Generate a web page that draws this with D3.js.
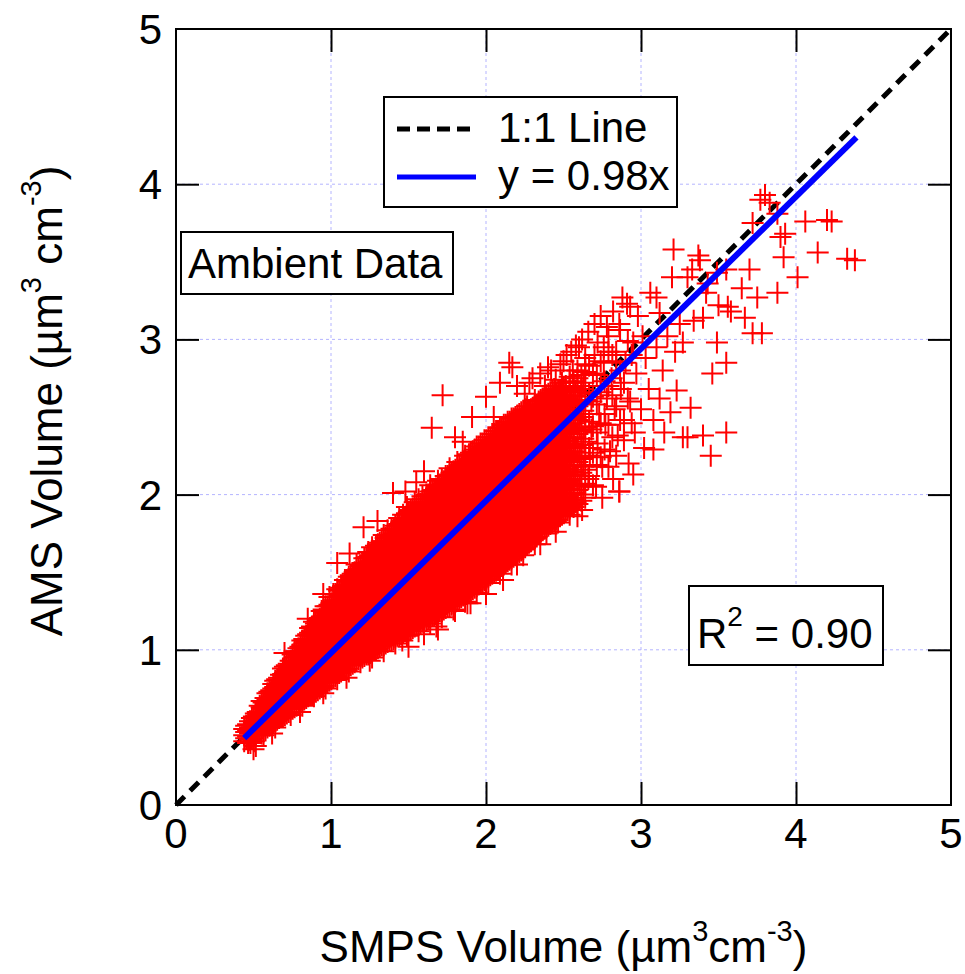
<!DOCTYPE html>
<html><head><meta charset="utf-8">
<script src="https://cdn.jsdelivr.net/npm/d3@7"></script>
<style>body{margin:0;background:#fff}</style>
</head><body>
<svg id="chart" width="965" height="974"></svg>
<script>
// ---------------- DATA ----------------
const xTickValues = [0,1,2,3,4,5];
const yTickValues = [0,1,2,3,4,5];
const gridValues = [1,2,3,4];
const oneToOneRange = [0,5];
const fitSlope = 0.98;
const fitRange = [0.44, 4.39];
const legendLabels = ["1:1 Line", "y = 0.98x"];
const boxLabel = "Ambient Data";
const r2Value = "0.90";

// dense core of the cloud, read column by column: [SMPS, [AMS values]]
const coreColumns = [
[0.440,[0.41,0.45,0.49]],
[0.465,[0.40,0.44,0.48,0.52]],
[0.490,[0.43,0.47,0.51,0.56]],
[0.515,[0.38,0.45,0.49,0.54,0.59]],
[0.540,[0.47,0.51,0.56,0.60,0.64]],
[0.565,[0.45,0.49,0.53,0.58,0.62,0.66]],
[0.590,[0.50,0.54,0.59,0.63,0.68,0.72]],
[0.615,[0.52,0.56,0.61,0.65,0.70,0.74]],
[0.640,[0.50,0.54,0.58,0.63,0.67,0.72,0.76,0.80]],
[0.665,[0.56,0.60,0.65,0.69,0.74,0.78,0.82]],
[0.690,[0.57,0.62,0.66,0.71,0.75,0.80,0.84,0.88]],
[0.715,[0.59,0.63,0.68,0.72,0.77,0.81,0.86,0.90]],
[0.740,[0.58,0.62,0.66,0.70,0.75,0.79,0.84,0.88,0.93]],
[0.765,[0.63,0.68,0.72,0.77,0.81,0.86,0.90,0.95,0.99]],
[0.790,[0.65,0.69,0.74,0.78,0.83,0.87,0.92,0.96,1.01]],
[0.815,[0.64,0.67,0.71,0.76,0.80,0.85,0.89,0.94,0.98,1.03,1.06]],
[0.840,[0.69,0.73,0.78,0.82,0.87,0.91,0.96,1.00,1.05,1.09]],
[0.865,[0.71,0.75,0.80,0.84,0.89,0.93,0.98,1.02,1.07,1.11,1.14]],
[0.890,[0.70,0.74,0.78,0.83,0.87,0.92,0.96,1.01,1.05,1.10,1.14,1.18]],
[0.915,[0.74,0.79,0.83,0.88,0.92,0.97,1.01,1.06,1.10,1.15,1.19]],
[0.940,[0.76,0.80,0.85,0.89,0.94,0.98,1.03,1.07,1.12,1.16,1.21,1.25]],
[0.965,[0.75,0.79,0.83,0.88,0.92,0.97,1.01,1.06,1.10,1.15,1.19,1.24,1.28]],
[0.990,[0.80,0.84,0.89,0.93,0.98,1.02,1.07,1.11,1.16,1.20,1.25,1.29,1.34]],
[1.015,[0.82,0.86,0.91,0.95,1.00,1.04,1.09,1.13,1.18,1.22,1.27,1.31,1.36]],
[1.040,[0.81,0.85,0.89,0.94,0.98,1.03,1.07,1.12,1.16,1.21,1.25,1.30,1.34,1.39]],
[1.065,[0.86,0.90,0.95,0.99,1.04,1.08,1.13,1.17,1.22,1.26,1.31,1.35,1.40]],
[1.090,[0.87,0.92,0.96,1.01,1.05,1.10,1.14,1.19,1.23,1.28,1.32,1.37,1.41,1.45]],
[1.115,[0.86,0.90,0.94,0.99,1.03,1.08,1.12,1.17,1.21,1.26,1.30,1.35,1.39,1.44,1.47]],
[1.140,[0.91,0.95,1.00,1.04,1.09,1.13,1.18,1.22,1.27,1.31,1.36,1.40,1.45,1.49]],
[1.165,[0.93,0.97,1.02,1.06,1.11,1.15,1.20,1.24,1.29,1.33,1.38,1.42,1.47,1.51,1.55]],
[1.190,[0.92,0.96,1.00,1.05,1.09,1.14,1.18,1.23,1.27,1.32,1.36,1.41,1.45,1.50,1.54]],
[1.215,[0.96,1.01,1.05,1.10,1.14,1.19,1.23,1.28,1.32,1.37,1.41,1.46,1.50,1.55,1.59]],
[1.240,[0.97,1.02,1.06,1.11,1.15,1.20,1.24,1.29,1.33,1.38,1.42,1.47,1.51,1.56,1.60,1.63]],
[1.265,[0.95,0.99,1.03,1.08,1.12,1.17,1.21,1.26,1.30,1.35,1.39,1.44,1.48,1.53,1.57,1.62,1.66]],
[1.290,[1.00,1.05,1.09,1.14,1.18,1.23,1.27,1.32,1.36,1.41,1.45,1.50,1.54,1.59,1.63,1.67]],
[1.315,[1.02,1.06,1.11,1.15,1.20,1.24,1.29,1.33,1.38,1.42,1.47,1.51,1.56,1.60,1.65,1.69]],
[1.340,[0.99,1.03,1.07,1.12,1.16,1.21,1.25,1.30,1.34,1.39,1.43,1.48,1.52,1.57,1.61,1.66,1.70,1.74]],
[1.365,[1.05,1.09,1.14,1.18,1.23,1.27,1.32,1.36,1.41,1.45,1.50,1.54,1.59,1.63,1.68,1.72,1.77]],
[1.390,[1.06,1.10,1.15,1.19,1.24,1.28,1.33,1.37,1.42,1.46,1.51,1.55,1.60,1.64,1.69,1.73,1.78]],
[1.415,[1.04,1.08,1.12,1.17,1.21,1.26,1.30,1.35,1.39,1.44,1.48,1.53,1.57,1.62,1.66,1.71,1.75,1.80]],
[1.440,[1.09,1.13,1.18,1.22,1.27,1.31,1.36,1.40,1.45,1.49,1.54,1.58,1.63,1.67,1.72,1.76,1.81,1.85]],
[1.465,[1.11,1.15,1.20,1.24,1.29,1.33,1.38,1.42,1.47,1.51,1.56,1.60,1.65,1.69,1.74,1.78,1.83,1.87]],
[1.490,[1.09,1.12,1.16,1.21,1.25,1.30,1.34,1.39,1.43,1.48,1.52,1.57,1.61,1.66,1.70,1.75,1.79,1.84,1.88,1.92]],
[1.515,[1.13,1.18,1.22,1.27,1.31,1.36,1.40,1.45,1.49,1.54,1.58,1.63,1.67,1.72,1.76,1.81,1.85,1.90]],
[1.540,[1.15,1.19,1.24,1.28,1.33,1.37,1.42,1.46,1.51,1.55,1.60,1.64,1.69,1.73,1.78,1.82,1.87,1.91,1.95]],
[1.565,[1.12,1.16,1.20,1.25,1.29,1.34,1.38,1.43,1.47,1.52,1.56,1.61,1.65,1.70,1.74,1.79,1.83,1.88,1.92,1.97]],
[1.590,[1.18,1.22,1.27,1.31,1.36,1.40,1.45,1.49,1.54,1.58,1.63,1.67,1.72,1.76,1.81,1.85,1.90,1.94,1.99]],
[1.615,[1.19,1.23,1.28,1.32,1.37,1.41,1.46,1.50,1.55,1.59,1.64,1.68,1.73,1.77,1.82,1.86,1.91,1.95,2.00]],
[1.640,[1.17,1.21,1.25,1.30,1.34,1.39,1.43,1.48,1.52,1.57,1.61,1.66,1.70,1.75,1.79,1.84,1.88,1.93,1.97,2.02,2.06]],
[1.665,[1.22,1.27,1.31,1.36,1.40,1.45,1.49,1.54,1.58,1.63,1.67,1.72,1.76,1.81,1.85,1.90,1.94,1.99,2.03]],
[1.690,[1.24,1.28,1.33,1.37,1.42,1.46,1.51,1.55,1.60,1.64,1.69,1.73,1.78,1.82,1.87,1.91,1.96,2.00,2.05,2.09]],
[1.715,[1.21,1.25,1.29,1.34,1.38,1.43,1.47,1.52,1.56,1.61,1.65,1.70,1.74,1.79,1.83,1.88,1.92,1.97,2.01,2.06,2.10]],
[1.740,[1.27,1.31,1.36,1.40,1.45,1.49,1.54,1.58,1.63,1.67,1.72,1.76,1.81,1.85,1.90,1.94,1.99,2.03,2.08,2.12]],
[1.765,[1.28,1.32,1.37,1.41,1.46,1.50,1.55,1.59,1.64,1.68,1.73,1.77,1.82,1.86,1.91,1.95,2.00,2.04,2.09,2.13,2.17]],
[1.790,[1.26,1.30,1.34,1.39,1.43,1.48,1.52,1.57,1.61,1.66,1.70,1.75,1.79,1.84,1.88,1.93,1.97,2.02,2.06,2.11,2.15]],
[1.815,[1.32,1.36,1.41,1.45,1.50,1.54,1.59,1.63,1.68,1.72,1.77,1.81,1.86,1.90,1.95,1.99,2.04,2.08,2.13,2.17,2.21]],
[1.840,[1.34,1.38,1.43,1.47,1.52,1.56,1.61,1.65,1.70,1.74,1.79,1.83,1.88,1.92,1.97,2.01,2.06,2.10,2.15,2.19]],
[1.865,[1.31,1.36,1.40,1.45,1.49,1.54,1.58,1.63,1.67,1.72,1.76,1.81,1.85,1.90,1.94,1.99,2.03,2.08,2.12,2.17,2.21,2.25]],
[1.890,[1.37,1.41,1.46,1.50,1.55,1.59,1.64,1.68,1.73,1.77,1.82,1.86,1.91,1.95,2.00,2.04,2.09,2.13,2.18,2.22,2.26]],
[1.915,[1.39,1.43,1.48,1.52,1.57,1.61,1.66,1.70,1.75,1.79,1.84,1.88,1.93,1.97,2.02,2.06,2.11,2.15,2.20,2.24,2.28]],
[1.940,[1.37,1.41,1.45,1.50,1.54,1.59,1.63,1.68,1.72,1.77,1.81,1.86,1.90,1.95,1.99,2.04,2.08,2.13,2.17,2.22,2.26,2.31]],
[1.965,[1.43,1.47,1.52,1.56,1.61,1.65,1.70,1.74,1.79,1.83,1.88,1.92,1.97,2.01,2.06,2.10,2.15,2.19,2.24,2.28,2.33]],
[1.990,[1.45,1.49,1.54,1.58,1.63,1.67,1.72,1.76,1.81,1.85,1.90,1.94,1.99,2.03,2.08,2.12,2.17,2.21,2.26,2.30,2.35]],
[2.015,[1.43,1.47,1.51,1.56,1.60,1.65,1.69,1.74,1.78,1.83,1.87,1.92,1.96,2.01,2.05,2.10,2.14,2.19,2.23,2.28,2.32,2.37]],
[2.040,[1.49,1.53,1.58,1.62,1.67,1.71,1.76,1.80,1.85,1.89,1.94,1.98,2.03,2.07,2.12,2.16,2.21,2.25,2.30,2.34,2.39]],
[2.065,[1.51,1.55,1.60,1.64,1.69,1.73,1.78,1.82,1.87,1.91,1.96,2.00,2.05,2.09,2.14,2.18,2.23,2.27,2.32,2.36,2.41]],
[2.090,[1.49,1.53,1.57,1.62,1.66,1.71,1.75,1.80,1.84,1.89,1.93,1.98,2.02,2.07,2.11,2.16,2.20,2.25,2.29,2.34,2.38,2.43]],
[2.115,[1.55,1.59,1.64,1.68,1.73,1.77,1.82,1.86,1.91,1.95,2.00,2.04,2.09,2.13,2.18,2.22,2.27,2.31,2.36,2.40,2.45]],
[2.140,[1.57,1.61,1.66,1.70,1.75,1.79,1.84,1.88,1.93,1.97,2.02,2.06,2.11,2.15,2.20,2.24,2.29,2.33,2.38,2.42,2.47]],
[2.165,[1.55,1.59,1.63,1.68,1.72,1.77,1.81,1.86,1.90,1.95,1.99,2.04,2.08,2.13,2.17,2.22,2.26,2.31,2.35,2.40,2.44,2.49]],
[2.190,[1.61,1.65,1.70,1.74,1.79,1.83,1.88,1.92,1.97,2.01,2.06,2.10,2.15,2.19,2.24,2.28,2.33,2.37,2.42,2.46,2.50]],
[2.215,[1.63,1.67,1.72,1.76,1.81,1.85,1.90,1.94,1.99,2.03,2.08,2.12,2.17,2.21,2.26,2.30,2.35,2.39,2.44,2.48,2.52]],
[2.240,[1.61,1.65,1.69,1.74,1.78,1.83,1.87,1.92,1.96,2.01,2.05,2.10,2.14,2.19,2.23,2.28,2.32,2.37,2.41,2.46,2.50,2.54]],
[2.265,[1.68,1.72,1.77,1.81,1.86,1.90,1.95,1.99,2.04,2.08,2.13,2.17,2.22,2.26,2.31,2.35,2.40,2.44,2.49,2.53,2.57]],
[2.290,[1.70,1.74,1.79,1.83,1.88,1.92,1.97,2.01,2.06,2.10,2.15,2.19,2.24,2.28,2.33,2.37,2.42,2.46,2.51,2.55]],
[2.315,[1.68,1.72,1.76,1.81,1.85,1.90,1.94,1.99,2.03,2.08,2.12,2.17,2.21,2.26,2.30,2.35,2.39,2.44,2.48,2.53,2.57,2.61]],
[2.340,[1.75,1.79,1.84,1.88,1.93,1.97,2.02,2.06,2.11,2.15,2.20,2.24,2.29,2.33,2.38,2.42,2.47,2.51,2.56,2.60]],
[2.365,[1.77,1.81,1.86,1.90,1.95,1.99,2.04,2.08,2.13,2.17,2.22,2.26,2.31,2.35,2.40,2.44,2.49,2.53,2.58,2.62]],
[2.390,[1.75,1.79,1.83,1.88,1.92,1.97,2.01,2.06,2.10,2.15,2.19,2.24,2.28,2.33,2.37,2.42,2.46,2.51,2.55,2.60,2.64]],
[2.415,[1.81,1.86,1.90,1.95,1.99,2.04,2.08,2.13,2.17,2.22,2.26,2.31,2.35,2.40,2.44,2.49,2.53,2.58,2.62,2.66]],
[2.440,[1.83,1.88,1.92,1.97,2.01,2.06,2.10,2.15,2.19,2.24,2.28,2.33,2.37,2.42,2.46,2.51,2.55,2.60,2.64,2.68]],
[2.465,[1.82,1.86,1.91,1.95,2.00,2.04,2.09,2.13,2.18,2.22,2.27,2.31,2.36,2.40,2.45,2.49,2.54,2.58,2.63,2.67]],
[2.490,[1.87,1.92,1.96,2.01,2.05,2.10,2.14,2.19,2.23,2.28,2.32,2.37,2.41,2.46,2.50,2.55,2.59,2.64,2.68,2.72]],
[2.515,[1.89,1.94,1.98,2.03,2.07,2.12,2.16,2.21,2.25,2.30,2.34,2.39,2.43,2.48,2.52,2.57,2.61,2.66,2.70]],
[2.540,[1.87,1.91,1.95,2.00,2.04,2.09,2.13,2.18,2.22,2.27,2.31,2.36,2.40,2.45,2.49,2.54,2.58,2.63,2.67,2.72,2.76]],
[2.565,[1.92,1.97,2.01,2.06,2.10,2.15,2.19,2.24,2.28,2.33,2.37,2.42,2.46,2.51,2.55,2.60,2.64,2.69,2.73]],
[2.590,[1.94,2.03,2.12,2.21,2.30,2.39,2.48,2.57,2.66,2.75,2.80]],
[2.615,[1.96,2.05,2.14,2.23,2.32,2.41,2.50,2.59,2.68,2.77]],
[2.640,[1.98,2.07,2.16,2.25,2.34,2.43,2.52,2.61,2.70,2.79,2.84]]
];

// second pass over the core, read between the columns above
const coreColumnsB = [
[0.4525,[0.43,0.47,0.51]],
[0.4775,[0.42,0.46,0.50,0.54]],
[0.5025,[0.41,0.45,0.49,0.53,0.57]],
[0.5275,[0.47,0.51,0.56,0.60]],
[0.5525,[0.46,0.50,0.54,0.59,0.63,0.67]],
[0.5775,[0.48,0.52,0.56,0.61,0.65,0.69]],
[0.6025,[0.51,0.55,0.59,0.64,0.68,0.73]],
[0.6275,[0.53,0.57,0.62,0.66,0.71,0.75,0.78]],
[0.6525,[0.55,0.59,0.63,0.68,0.72,0.77,0.81]],
[0.6775,[0.57,0.61,0.66,0.70,0.75,0.79,0.84]],
[0.7025,[0.58,0.62,0.67,0.71,0.76,0.80,0.85,0.89]],
[0.7275,[0.60,0.64,0.69,0.73,0.78,0.82,0.87,0.91]],
[0.7525,[0.62,0.66,0.71,0.75,0.80,0.84,0.89,0.93,0.97]],
[0.7775,[0.64,0.68,0.73,0.77,0.82,0.86,0.91,0.95,0.99]],
[0.8025,[0.66,0.70,0.75,0.79,0.84,0.88,0.93,0.97,1.02]],
[0.8275,[0.68,0.72,0.77,0.81,0.86,0.90,0.95,0.99,1.04,1.07]],
[0.8525,[0.70,0.74,0.79,0.83,0.88,0.92,0.97,1.01,1.06,1.10]],
[0.8775,[0.71,0.76,0.80,0.85,0.89,0.94,0.98,1.03,1.07,1.12,1.15]],
[0.9025,[0.73,0.77,0.82,0.86,0.91,0.95,1.00,1.04,1.09,1.13,1.17]],
[0.9275,[0.75,0.79,0.84,0.88,0.93,0.97,1.02,1.06,1.11,1.15,1.20]],
[0.9525,[0.77,0.81,0.86,0.90,0.95,0.99,1.04,1.08,1.13,1.17,1.22,1.26]],
[0.9775,[0.79,0.83,0.87,0.92,0.96,1.01,1.05,1.10,1.14,1.19,1.23,1.28]],
[1.0025,[0.81,0.85,0.90,0.94,0.99,1.03,1.08,1.12,1.17,1.21,1.26,1.30]],
[1.0275,[0.83,0.87,0.92,0.96,1.01,1.05,1.10,1.14,1.19,1.23,1.28,1.32,1.36]],
[1.0525,[0.85,0.89,0.93,0.98,1.02,1.07,1.11,1.16,1.20,1.25,1.29,1.34,1.38]],
[1.0775,[0.87,0.91,0.95,1.00,1.04,1.09,1.13,1.18,1.22,1.27,1.31,1.36,1.41]],
[1.1025,[0.88,0.93,0.97,1.02,1.06,1.11,1.15,1.20,1.24,1.29,1.33,1.38,1.42,1.45]],
[1.1275,[0.90,0.94,0.99,1.03,1.08,1.12,1.17,1.21,1.26,1.30,1.35,1.39,1.44,1.48]],
[1.1525,[0.92,0.96,1.01,1.05,1.10,1.14,1.19,1.23,1.28,1.32,1.37,1.41,1.46,1.50]],
[1.1775,[0.94,0.98,1.02,1.07,1.11,1.16,1.20,1.25,1.29,1.34,1.38,1.43,1.47,1.52]],
[1.2025,[0.95,0.99,1.04,1.08,1.13,1.17,1.22,1.26,1.31,1.35,1.40,1.44,1.49,1.53,1.56]],
[1.2275,[0.97,1.01,1.06,1.10,1.15,1.19,1.24,1.28,1.33,1.37,1.42,1.46,1.51,1.55,1.59]],
[1.2525,[0.98,1.03,1.07,1.12,1.16,1.21,1.25,1.30,1.34,1.39,1.43,1.48,1.52,1.57,1.61]],
[1.2775,[1.00,1.04,1.09,1.13,1.18,1.22,1.27,1.31,1.36,1.40,1.45,1.49,1.54,1.58,1.63]],
[1.3025,[1.01,1.06,1.10,1.15,1.19,1.24,1.28,1.33,1.37,1.42,1.46,1.51,1.55,1.60,1.64,1.68]],
[1.3275,[1.03,1.07,1.12,1.16,1.21,1.25,1.30,1.34,1.39,1.43,1.48,1.52,1.57,1.61,1.66,1.70]],
[1.3525,[1.04,1.09,1.13,1.18,1.22,1.27,1.31,1.36,1.40,1.45,1.49,1.54,1.58,1.63,1.67,1.72]],
[1.3775,[1.06,1.10,1.15,1.19,1.24,1.28,1.33,1.37,1.42,1.46,1.51,1.55,1.60,1.64,1.69,1.73]],
[1.4025,[1.07,1.12,1.16,1.21,1.25,1.30,1.34,1.39,1.43,1.48,1.52,1.57,1.61,1.66,1.70,1.75,1.78]],
[1.4275,[1.09,1.13,1.18,1.22,1.27,1.31,1.36,1.40,1.45,1.49,1.54,1.58,1.63,1.67,1.72,1.76,1.80]],
[1.4525,[1.10,1.15,1.19,1.24,1.28,1.33,1.37,1.42,1.46,1.51,1.55,1.60,1.64,1.69,1.73,1.78,1.82]],
[1.4775,[1.12,1.16,1.21,1.25,1.30,1.34,1.39,1.43,1.48,1.52,1.57,1.61,1.66,1.70,1.75,1.79,1.84]],
[1.5025,[1.13,1.17,1.22,1.26,1.31,1.35,1.40,1.44,1.49,1.53,1.58,1.62,1.67,1.71,1.76,1.80,1.85,1.89]],
[1.5275,[1.14,1.19,1.23,1.28,1.32,1.37,1.41,1.46,1.50,1.55,1.59,1.64,1.68,1.73,1.77,1.82,1.86,1.91]],
[1.5525,[1.16,1.20,1.25,1.29,1.34,1.38,1.43,1.47,1.52,1.56,1.61,1.65,1.70,1.74,1.79,1.83,1.88,1.93]],
[1.5775,[1.17,1.22,1.26,1.31,1.35,1.40,1.44,1.49,1.53,1.58,1.62,1.67,1.71,1.76,1.80,1.85,1.89,1.94]],
[1.6025,[1.19,1.23,1.28,1.32,1.37,1.41,1.46,1.50,1.55,1.59,1.64,1.68,1.73,1.77,1.82,1.86,1.91,1.95]],
[1.6275,[1.20,1.25,1.29,1.34,1.38,1.43,1.47,1.52,1.56,1.61,1.65,1.70,1.74,1.79,1.83,1.88,1.92,1.97,2.00]],
[1.6525,[1.22,1.26,1.31,1.35,1.40,1.44,1.49,1.53,1.58,1.62,1.67,1.71,1.76,1.80,1.85,1.89,1.94,1.98,2.02]],
[1.6775,[1.23,1.28,1.32,1.37,1.41,1.46,1.50,1.55,1.59,1.64,1.68,1.73,1.77,1.82,1.86,1.91,1.95,2.00,2.04]],
[1.7025,[1.25,1.29,1.34,1.38,1.43,1.47,1.52,1.56,1.61,1.65,1.70,1.74,1.79,1.83,1.88,1.92,1.97,2.01,2.06]],
[1.7275,[1.26,1.31,1.35,1.40,1.44,1.49,1.53,1.58,1.62,1.67,1.71,1.76,1.80,1.85,1.89,1.94,1.98,2.03,2.07]],
[1.7525,[1.28,1.32,1.37,1.41,1.46,1.50,1.55,1.59,1.64,1.68,1.73,1.77,1.82,1.86,1.91,1.95,2.00,2.04,2.09,2.12]],
[1.7775,[1.29,1.34,1.38,1.43,1.47,1.52,1.56,1.61,1.65,1.70,1.74,1.79,1.83,1.88,1.92,1.97,2.01,2.06,2.10,2.14]],
[1.8025,[1.31,1.35,1.40,1.44,1.49,1.53,1.58,1.62,1.67,1.71,1.76,1.80,1.85,1.89,1.94,1.98,2.03,2.07,2.12,2.16]],
[1.8275,[1.33,1.37,1.42,1.46,1.51,1.55,1.60,1.64,1.69,1.73,1.78,1.82,1.87,1.91,1.96,2.00,2.05,2.09,2.14,2.18]],
[1.8525,[1.35,1.39,1.44,1.48,1.53,1.57,1.62,1.66,1.71,1.75,1.80,1.84,1.89,1.93,1.98,2.02,2.07,2.11,2.16,2.20]],
[1.8775,[1.36,1.40,1.45,1.49,1.54,1.58,1.63,1.67,1.72,1.76,1.81,1.85,1.90,1.94,1.99,2.03,2.08,2.12,2.17,2.21]],
[1.9025,[1.38,1.42,1.47,1.51,1.56,1.60,1.65,1.69,1.74,1.78,1.83,1.87,1.92,1.96,2.01,2.05,2.10,2.14,2.19,2.23,2.27]],
[1.9275,[1.40,1.44,1.49,1.53,1.58,1.62,1.67,1.71,1.76,1.80,1.85,1.89,1.94,1.98,2.03,2.07,2.12,2.16,2.21,2.25,2.29]],
[1.9525,[1.42,1.46,1.51,1.55,1.60,1.64,1.69,1.73,1.78,1.82,1.87,1.91,1.96,2.00,2.05,2.09,2.14,2.18,2.23,2.27,2.31]],
[1.9775,[1.44,1.48,1.53,1.57,1.62,1.66,1.71,1.75,1.80,1.84,1.89,1.93,1.98,2.02,2.07,2.11,2.16,2.20,2.25,2.29,2.33]],
[2.0025,[1.46,1.50,1.55,1.59,1.64,1.68,1.73,1.77,1.82,1.86,1.91,1.95,2.00,2.04,2.09,2.13,2.18,2.22,2.27,2.31,2.35]],
[2.0275,[1.48,1.52,1.57,1.61,1.66,1.70,1.75,1.79,1.84,1.88,1.93,1.97,2.02,2.06,2.11,2.15,2.20,2.24,2.29,2.33,2.37]],
[2.0525,[1.50,1.54,1.59,1.63,1.68,1.72,1.77,1.81,1.86,1.90,1.95,1.99,2.04,2.08,2.13,2.17,2.22,2.26,2.31,2.35,2.39]],
[2.0775,[1.52,1.56,1.61,1.65,1.70,1.74,1.79,1.83,1.88,1.92,1.97,2.01,2.06,2.10,2.15,2.19,2.24,2.28,2.33,2.37,2.41]],
[2.1025,[1.54,1.58,1.63,1.67,1.72,1.76,1.81,1.85,1.90,1.94,1.99,2.03,2.08,2.12,2.17,2.21,2.26,2.30,2.35,2.39,2.43]],
[2.1275,[1.56,1.60,1.65,1.69,1.74,1.78,1.83,1.87,1.92,1.96,2.01,2.05,2.10,2.14,2.19,2.23,2.28,2.32,2.37,2.41,2.45]],
[2.1525,[1.58,1.62,1.67,1.71,1.76,1.80,1.85,1.89,1.94,1.98,2.03,2.07,2.12,2.16,2.21,2.25,2.30,2.34,2.39,2.43,2.47]],
[2.1775,[1.60,1.64,1.69,1.73,1.78,1.82,1.87,1.91,1.96,2.00,2.05,2.09,2.14,2.18,2.23,2.27,2.32,2.36,2.41,2.45,2.49]],
[2.2025,[1.62,1.66,1.71,1.75,1.80,1.84,1.89,1.93,1.98,2.02,2.07,2.11,2.16,2.20,2.25,2.29,2.34,2.38,2.43,2.47,2.51]],
[2.2275,[1.64,1.68,1.73,1.77,1.82,1.86,1.91,1.95,2.00,2.04,2.09,2.13,2.18,2.22,2.27,2.31,2.36,2.40,2.45,2.49,2.53]],
[2.2525,[1.66,1.70,1.75,1.79,1.84,1.88,1.93,1.97,2.02,2.06,2.11,2.15,2.20,2.24,2.29,2.33,2.38,2.42,2.47,2.51,2.55]],
[2.2775,[1.69,1.73,1.78,1.82,1.87,1.91,1.96,2.00,2.05,2.09,2.14,2.18,2.23,2.27,2.32,2.36,2.41,2.45,2.50,2.54]],
[2.3025,[1.71,1.75,1.80,1.84,1.89,1.93,1.98,2.02,2.07,2.11,2.16,2.20,2.25,2.29,2.34,2.38,2.43,2.47,2.52,2.56]],
[2.3275,[1.73,1.77,1.82,1.86,1.91,1.95,2.00,2.04,2.09,2.13,2.18,2.22,2.27,2.31,2.36,2.40,2.45,2.49,2.54,2.58]],
[2.3525,[1.76,1.80,1.85,1.89,1.94,1.98,2.03,2.07,2.12,2.16,2.21,2.25,2.30,2.34,2.39,2.43,2.48,2.52,2.57,2.61]],
[2.3775,[1.78,1.82,1.87,1.91,1.96,2.00,2.05,2.09,2.14,2.18,2.23,2.27,2.32,2.36,2.41,2.45,2.50,2.54,2.59,2.63]],
[2.4025,[1.80,1.84,1.89,1.93,1.98,2.02,2.07,2.11,2.16,2.20,2.25,2.29,2.34,2.38,2.43,2.47,2.52,2.56,2.61,2.65]],
[2.4275,[1.82,1.86,1.91,1.95,2.00,2.04,2.09,2.13,2.18,2.22,2.27,2.31,2.36,2.40,2.45,2.49,2.54,2.58,2.63,2.67]],
[2.4525,[1.84,1.88,1.93,1.97,2.02,2.06,2.11,2.15,2.20,2.24,2.29,2.33,2.38,2.42,2.47,2.51,2.56,2.60,2.65]],
[2.4775,[1.86,1.95,2.04,2.13,2.22,2.31,2.40,2.49,2.58,2.67]],
[2.5025,[1.88,1.97,2.06,2.15,2.24,2.33,2.42,2.51,2.60,2.69]],
[2.5275,[1.90,1.99,2.08,2.17,2.26,2.35,2.44,2.53,2.62]],
[2.5525,[1.93,2.07,2.25,2.43,2.61]],
[2.5775,[1.95,2.13,2.31,2.49,2.67]],
[2.6025,[2.06,2.24,2.42,2.60]],
[2.6275,[2.00,2.18,2.36,2.54,2.72]],
[2.665,[2.12,2.30,2.47,2.65,2.83]],
[2.690,[2.06,2.27,2.44,2.63]],
[2.715,[2.19,2.40,2.58,2.77]],
[2.740,[2.24,2.46,2.66,2.86]],
[2.765,[2.29,2.52,2.73]],
[2.790,[2.18,2.45,2.70,2.92]],
[2.815,[2.37,2.64,2.90]],
[2.840,[2.25,2.57,2.86]],
[2.865,[2.48,2.80,3.06]],
[2.890,[2.35,2.72]],
[2.915,[2.62,2.99]],
[2.940,[2.46,2.90]]
];

// sparser points at the edges, the upper tail and the outliers: [SMPS, AMS]
const scatterPoints = [
[0.50,0.36],[0.48,0.40],[0.62,0.46],[0.80,0.60],[0.95,0.72],[1.10,0.82],[1.25,0.93],[1.46,1.06],[1.50,1.02],
[1.60,1.10],[1.68,1.15],[1.69,1.13],[1.80,1.25],[1.88,1.30],[1.90,1.30],[2.00,1.36],[2.11,1.45],[2.20,1.55],
[2.35,1.68],[2.45,1.76],[2.59,1.86],[2.62,1.90],[2.75,1.98],[2.86,2.02],
[0.70,0.98],[0.85,1.20],[0.95,1.36],[1.04,1.56],[1.12,1.62],[1.21,1.79],[1.30,1.83],[1.40,2.01],[1.48,2.02],
[1.55,2.08],[1.60,2.15],[1.80,2.37],[1.85,2.34],[2.05,2.50],[2.25,2.65],
[1.65,2.43],[1.72,2.64],[1.91,2.50],[2.00,2.63],[2.09,2.72],[2.15,2.85],[2.17,2.82],
[2.20,2.70],[2.28,2.72],[2.30,2.75],[2.35,2.78],[2.38,2.70],[2.40,2.82],[2.42,2.80],[2.45,2.74],[2.48,2.84],
[2.50,2.86],[2.52,2.90],[2.55,2.92],[2.56,2.80],[2.58,2.96],[2.60,2.95],[2.62,3.00],[2.64,2.88],[2.66,3.05],
[2.70,3.10],[2.74,3.15],[2.76,2.95],[2.78,3.08],[2.82,3.18],
[2.66,2.10],[2.67,2.25],[2.68,2.42],[2.68,2.60],[2.69,2.78],[2.70,2.90],[2.71,2.05],[2.72,2.33],[2.72,2.98],
[2.73,2.52],[2.74,2.70],[2.75,2.18],[2.76,2.85],[2.77,2.45],[2.78,2.62],[2.79,3.02],[2.80,2.28],[2.81,2.75],
[2.82,2.10],[2.83,2.55],[2.84,2.92],[2.85,2.38],[2.86,3.10],[2.86,2.02],[2.87,2.68],[2.88,3.27],[2.89,2.48],
[2.90,2.85],[2.91,3.23],[2.92,2.20],[2.93,3.21],[2.93,2.60],[2.95,2.98],[2.95,2.13],[2.96,2.40],[2.97,2.78],
[2.98,3.15],[3.00,2.55],[3.01,3.02],[3.02,2.30],[3.03,2.88],[3.05,2.68],[3.06,3.30],[3.08,2.29],[3.08,2.48],
[3.10,3.27],[3.10,2.95],[3.12,3.17],[3.12,2.62],[3.14,2.80],[3.15,2.40],[3.17,3.02],[3.19,2.53],[3.20,3.40],
[3.21,3.58],[3.22,2.92],[3.23,2.67],[3.25,3.10],[3.27,2.98],[3.27,2.37],[3.30,3.40],[3.30,2.37],[3.32,2.56],
[3.33,3.45],[3.34,3.12],[3.37,3.54],[3.38,3.51],[3.40,3.14],[3.40,2.38],[3.42,3.30],[3.43,3.36],[3.45,2.25],
[3.46,2.78],[3.49,3.43],[3.49,2.98],[3.50,3.22],[3.55,3.45],[3.55,2.85],[3.55,2.40],[3.56,3.21],[3.58,3.18],
[3.65,3.33],[3.67,3.14],[3.70,3.45],[3.72,3.75],[3.72,3.04],[3.75,3.27],[3.77,3.90],[3.78,3.04],[3.80,3.93],
[3.83,3.88],[3.88,3.30],[3.88,3.81],[3.90,3.66],[3.93,3.68],[3.92,3.53],[4.01,3.40],[4.06,3.76],[4.14,3.56],
[4.20,3.77],[4.23,3.76],[4.33,3.52],[4.38,3.51]
];

// ---------------- DRAWING ----------------
const FONT = "'Liberation Sans', Arial, Helvetica, sans-serif";
const svg = d3.select("#chart").style("font-family", FONT);
const x = d3.scaleLinear().domain([0,5]).range([176,951]);
const y = d3.scaleLinear().domain([0,5]).range([805,29]);
const [x0,x1] = x.range(), [y0,y1] = y.range();

const points = [];
coreColumns.concat(coreColumnsB).forEach(([sx, ys]) => ys.forEach(v => points.push([sx, v])));
scatterPoints.forEach(p => points.push(p));

// grid
const grid = svg.append("g").attr("stroke","#b4b4ff").attr("stroke-width",1).attr("stroke-dasharray","3,3");
grid.selectAll("line.gx").data(gridValues).join("line").attr("class","gx")
  .attr("x1",d=>x(d)).attr("x2",d=>x(d)).attr("y1",y1).attr("y2",y0);
grid.selectAll("line.gy").data(gridValues).join("line").attr("class","gy")
  .attr("y1",d=>y(d)).attr("y2",d=>y(d)).attr("x1",x0).attr("x2",x1);

// 1:1 line
svg.append("line")
  .attr("x1",x(oneToOneRange[0])).attr("y1",y(oneToOneRange[0]))
  .attr("x2",x(oneToOneRange[1])).attr("y2",y(oneToOneRange[1]))
  .attr("stroke","#000").attr("stroke-width",5).attr("stroke-dasharray","12,8");

// points
svg.append("g").attr("stroke","#ff0000").attr("stroke-width",2).attr("fill","none")
  .selectAll("path").data(points).join("path")
  .attr("d","M-11,0H11M0,-11V11")
  .attr("transform",d=>`translate(${x(d[0])},${y(d[1])})`);

// fit line
svg.append("line")
  .attr("x1",x(fitRange[0])).attr("y1",y(fitSlope*fitRange[0]))
  .attr("x2",x(fitRange[1])).attr("y2",y(fitSlope*fitRange[1]))
  .attr("stroke","#0000ff").attr("stroke-width",6);

// inward ticks on all sides
const TL = 23;
function tickAxis(axis, tr){
  const g = svg.append("g").attr("transform",tr)
    .call(axis.tickValues(gridValues).tickSize(-TL).tickSizeOuter(0).tickFormat(""));
  g.select(".domain").remove();
  g.selectAll(".tick line").attr("stroke","#000").attr("stroke-width",2);
}
tickAxis(d3.axisBottom(x), `translate(0,${y0})`);
tickAxis(d3.axisTop(x), `translate(0,${y1})`);
tickAxis(d3.axisLeft(y), `translate(${x0},0)`);
tickAxis(d3.axisRight(y), `translate(${x1},0)`);

// frame
svg.append("rect").attr("x",x0).attr("y",y1).attr("width",x1-x0).attr("height",y0-y1)
  .attr("fill","none").attr("stroke","#000").attr("stroke-width",2);

// tick labels
svg.append("g").selectAll("text").data(xTickValues).join("text")
  .attr("x",d=>x(d)).attr("y",848).attr("text-anchor","middle")
  .attr("font-size",42).text(d=>d);
svg.append("g").selectAll("text").data(yTickValues).join("text")
  .attr("x",162).attr("y",d=>y(d)+15).attr("text-anchor","end")
  .attr("font-size",42).text(d=>d);

// axis titles
function supTitle(sel, parts){
  parts.forEach(p=>{
    const t = sel.append("tspan").text(p.t);
    if(p.sup){ t.attr("font-size",29).attr("dy",-21); }
    else if(p.back){ t.attr("dy",21); }
  });
}
const xt = svg.append("text").attr("x",(x0+x1)/2).attr("y",962).attr("text-anchor","middle").attr("font-size",44);
supTitle(xt,[{t:"SMPS Volume (µm"},{t:"3",sup:true},{t:"cm",back:true},{t:"-3",sup:true},{t:")",back:true}]);
const yt = svg.append("text").attr("transform","translate(62,401) rotate(-90)").attr("text-anchor","middle").attr("font-size",44);
supTitle(yt,[{t:"AMS Volume (µm"},{t:"3",sup:true},{t:" cm",back:true},{t:"-3",sup:true},{t:")",back:true}]);

// legend
svg.append("rect").attr("x",384).attr("y",97).attr("width",293).attr("height",110)
  .attr("fill","#fff").attr("stroke","#000").attr("stroke-width",2);
svg.append("line").attr("x1",397).attr("x2",470).attr("y1",129).attr("y2",129)
  .attr("stroke","#000").attr("stroke-width",5).attr("stroke-dasharray","13,7");
svg.append("line").attr("x1",397).attr("x2",476).attr("y1",177).attr("y2",177)
  .attr("stroke","#0000ff").attr("stroke-width",5);
svg.append("text").attr("x",498).attr("y",142).attr("font-size",42).text(legendLabels[0]);
svg.append("text").attr("x",498).attr("y",190).attr("font-size",42).text(legendLabels[1]);

// Ambient Data box
svg.append("rect").attr("x",181).attr("y",232).attr("width",272).attr("height",62)
  .attr("fill","#fff").attr("stroke","#000").attr("stroke-width",2);
svg.append("text").attr("x",188).attr("y",278).attr("font-size",42).text(boxLabel);

// R^2 box
svg.append("rect").attr("x",689).attr("y",586).attr("width",194).attr("height",79)
  .attr("fill","#fff").attr("stroke","#000").attr("stroke-width",2);
const rt = svg.append("text").attr("x",697).attr("y",648).attr("font-size",42);
rt.append("tspan").text("R");
rt.append("tspan").text("2").attr("font-size",28).attr("dy",-22);
rt.append("tspan").text(" = " + r2Value).attr("dy",22);
</script>
</body></html>
